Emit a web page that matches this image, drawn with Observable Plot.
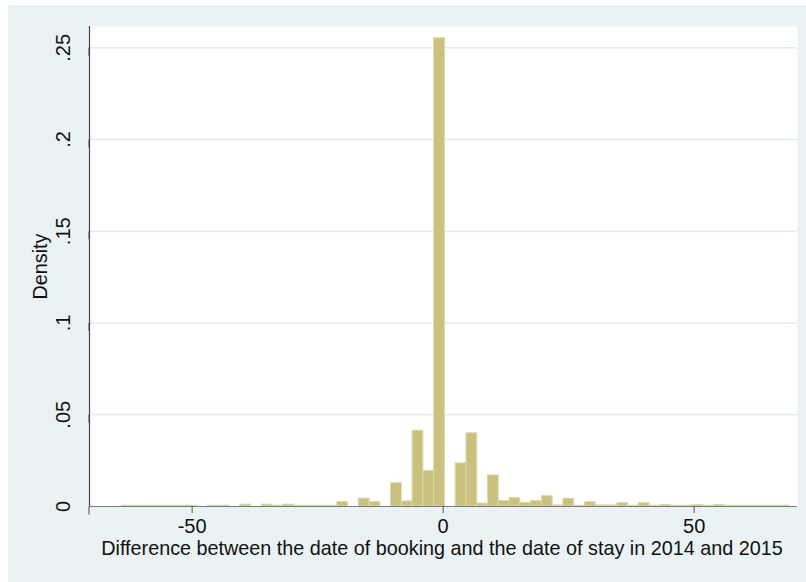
<!DOCTYPE html>
<html><head><meta charset="utf-8">
<script src="https://cdn.jsdelivr.net/npm/d3@7"></script>
<script src="https://cdn.jsdelivr.net/npm/@observablehq/plot@0.6"></script>
<style>
body{margin:0;background:#fff;}
#bg{position:absolute;left:8px;top:5px;width:798px;height:577px;background:#eaf2f3;}
#chart{position:absolute;left:0;top:0;}
</style>
</head><body><div id="bg"></div><div id="chart"></div>
<script>
// Histogram bin edges (days)
const binEdges = [-64, -61.85, -59.71, -57.56, -55.42, -53.27, -51.13, -48.98, -46.84, -44.69,
  -42.55, -40.40, -38.26, -36.11, -33.97, -31.82, -29.68, -27.53, -25.39, -23.24,
  -21.10, -18.95, -16.81, -14.66, -12.52, -10.37, -8.23, -6.08, -3.94, -1.79,
  0.35, 2.50, 4.65, 6.79, 8.94, 11.08, 13.23, 15.37, 17.52, 19.66,
  21.81, 23.95, 26.10, 28.24, 30.39, 32.53, 34.68, 36.82, 38.97, 41.11,
  43.26, 45.40, 47.55, 49.69, 51.84, 53.98, 56.13, 58.27, 60.42, 62.56,
  64.71, 66.85, 69];
// Density per bin
const densities = [0.0004, 0.0004, 0.0004, 0.0004, 0.0004, 0.0004, 0.0004, 0, 0.0004, 0.0004,
  0, 0.001, 0, 0.001, 0.0004, 0.001, 0.0004, 0.0004, 0.0004, 0.0004,
  0.0025, 0, 0.0043, 0.0024, 0, 0.0127, 0.0028, 0.0413, 0.0193, 0.2552,
  0, 0.0235, 0.0399, 0.0016, 0.0169, 0.0030, 0.0046, 0.0020, 0.0029, 0.0056,
  0.0006, 0.0042, 0.0004, 0.0023, 0.0006, 0.0006, 0.0018, 0.0004, 0.0018, 0.0004,
  0.0008, 0.0004, 0.0004, 0.0008, 0.0004, 0.0008, 0.0004, 0.0004, 0.0004, 0.0004,
  0.0004, 0.0004];
const xTicks = [-50, 0, 50];
const xTickLabels = ["-50", "0", "50"];
const yTicks = [0, 0.05, 0.1, 0.15, 0.2, 0.25];
const yTickLabels = ["0", ".05", ".1", ".15", ".2", ".25"];
const xDomain = [-70.45, 70.59];
const yDomain = [0, 0.2616];
const xTitle = "Difference between the date of booking and the date of stay in 2014 and 2015";
const yTitle = "Density";

const bins = densities.map((d, i) => ({x0: binEdges[i], x1: binEdges[i + 1], density: d}))
  .filter(b => b.density > 0);

const font = "'Liberation Sans', Arial, sans-serif";
const chart = Plot.plot({
  width: 806, height: 582,
  marginLeft: 89, marginRight: 9, marginTop: 26, marginBottom: 76,
  style: {background: "transparent", fontFamily: font, fontSize: "20px", color: "#111"},
  x: {domain: xDomain},
  y: {domain: yDomain},
  marks: [
    Plot.frame({fill: "white", stroke: null}),
    Plot.gridY(yTicks.filter(t => t > 0), {stroke: "#e2ecef", strokeOpacity: 1, strokeWidth: 1.5}),
    Plot.rectY(bins, {x1: "x0", x2: "x1", y: "density", fill: "#c9c27f", stroke: "#dcd7a6", strokeWidth: 1, inset: 0}),
    Plot.ruleY([yDomain[0]], {stroke: "#7a7a7a", strokeWidth: 1.2}),
    Plot.ruleX([xDomain[0]], {stroke: "#444", strokeWidth: 1.2}),
    Plot.axisY({ticks: yTicks, tickFormat: (d, i) => yTickLabels[i], tickSize: 8, tickPadding: 18,
      rotate: -90, textAnchor: "middle", lineAnchor: "middle", stroke: "#444", label: null, fontSize: 20}),
    Plot.axisX({ticks: xTicks, tickFormat: (d, i) => xTickLabels[i], tickSize: 7, tickPadding: 5,
      stroke: "#555", label: null, fontSize: 20}),
    Plot.text([yTitle], {frameAnchor: "left", dx: -49, rotate: -90, textAnchor: "middle", lineAnchor: "middle", fontSize: 19.8, fill: "#111"}),
    Plot.text([xTitle], {frameAnchor: "bottom", dy: 42, dx: -1.5, textAnchor: "middle", lineAnchor: "middle", fontSize: 19.8, fill: "#111"})
  ]
});
document.getElementById("chart").appendChild(chart);
</script>
</body></html>
